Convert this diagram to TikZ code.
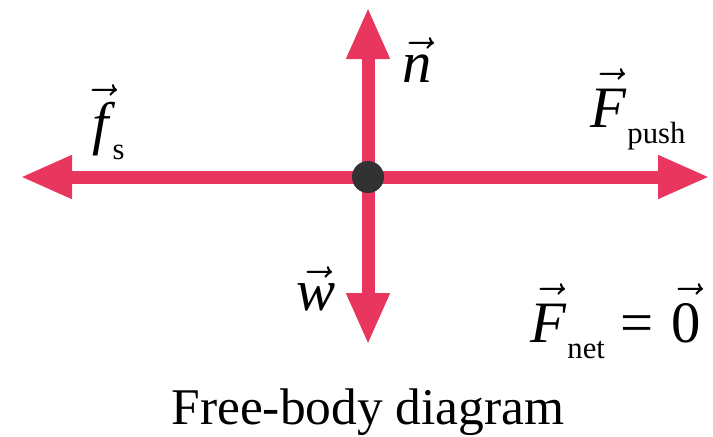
\RequirePackage{fix-cm}
\documentclass[tikz,border=0pt]{standalone}
\usepackage{fontspec}
\setmainfont{Liberation Serif}
\usepackage{tikz}
\usetikzlibrary{arrows.meta}

\definecolor{forcered}{RGB}{233,54,94}
\definecolor{dotgray}{RGB}{50,50,52}

\newcommand{\forcelab}[2]{$\vec{\mbox{\itshape #1}}$\kern1pt\raisebox{-12pt}{\fontsize{23}{25}\selectfont #2}}
\newcommand{\tallstrut}{\rule{0pt}{0.72em}}

\tikzset{
  force/.style={forcered, line width=9.75pt, -{Triangle[length=39pt, width=30pt]}},
  lab/.style={anchor=base west, inner sep=0pt, font=\fontsize{44}{50}\selectfont}
}

\begin{document}
\begin{tikzpicture}[x=0.75pt, y=-0.75pt]
  \useasboundingbox (0,0) rectangle (713,436);
  % forces
  \coordinate (o) at (368,177);
  \coordinate (ftip) at (20,177);
  \coordinate (ptip) at (710,177);
  \coordinate (ntip) at (368,7);
  \coordinate (wtip) at (368,345);
  \draw[force] (o) -- (ftip);
  \draw[force] (o) -- (ptip);
  \draw[force] (o) -- (ntip);
  \draw[force] (o) -- (wtip);
  \node[circle, fill=dotgray, minimum size=24pt, inner sep=0pt] (body) at (o) {};
  % labels
  \node[lab] (fs) at (92,143) {\forcelab{f}{\kern2pt s}};
  \node[lab] (fpush) at (590,127) {\forcelab{\tallstrut F}{push}};
  \node[lab] (nlab) at (402,82) {\forcelab{n}{}};
  \node[lab] (wlab) at (296,310) {\forcelab{w}{}};
  \node[lab] (fnet) at (530,342) {\forcelab{\tallstrut F}{net}\hspace{12pt}=\hspace{13pt}$\vec{\mbox{\tallstrut 0}}$};
  \node[anchor=base, inner sep=0pt, font=\fontsize{38.6}{44}\selectfont] (title) at (368,424) {Free-body diagram};
\end{tikzpicture}
\end{document}
